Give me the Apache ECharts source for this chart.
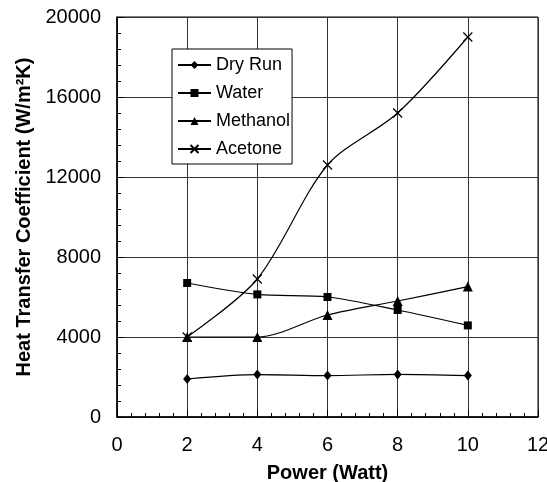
<!DOCTYPE html>
<html>
<head>
<meta charset="utf-8">
<script src="https://cdn.jsdelivr.net/npm/echarts@6/dist/echarts.min.js"></script>
<style>html,body{margin:0;padding:0;background:#fff}#c{width:547px;height:482px}</style>
</head>
<body>
<div id="c"></div>
<script>
var power = [2, 4, 6, 8, 10];
var dryRun = [1900, 2120, 2070, 2130, 2070];
var water = [6700, 6130, 6000, 5350, 4580];
var methanol = [4000, 4000, 5100, 5800, 6520];
var acetone = [4000, 6900, 12600, 15200, 19000];
var xTicks = [0, 2, 4, 6, 8, 10, 12];
var yTicks = [0, 4000, 8000, 12000, 16000, 20000];

function pairs(vals) { return power.map(function (p, i) { return [p, vals[i]]; }); }

var font = 'Liberation Sans, Arial, sans-serif';
var chart = echarts.init(document.getElementById('c'), null, { renderer: 'canvas' });
function mk(name, vals, symbol, size, extra) {
  var s = {
    name: name, type: 'line', data: pairs(vals), smooth: 0.3,
    symbol: symbol, symbolSize: size, showSymbol: true,
    lineStyle: { color: '#000', width: 1.2 },
    itemStyle: { color: '#000', borderColor: '#000', borderWidth: 0 },
    emphasis: { disabled: true }
  };
  if (extra) Object.assign(s.itemStyle, extra);
  return s;
}
chart.setOption({
  animation: false,
  backgroundColor: '#fff',
  grid: { left: 117, right: 9, top: 17, bottom: 65, show: true, borderColor: '#000', borderWidth: 1,
          containLabel: false, outerBoundsMode: 'none' },
  legend: {
    orient: 'vertical', left: 172, top: 49,
    padding: [7, 2, 6, 5], itemWidth: 33, itemHeight: 10, itemGap: 10,
    backgroundColor: '#fff', borderColor: '#000', borderWidth: 1,
    textStyle: { fontFamily: font, fontSize: 18, color: '#000' },
    data: ['Dry Run', 'Water', 'Methanol', 'Acetone']
  },
  xAxis: {
    type: 'value', min: xTicks[0], max: xTicks[xTicks.length - 1], interval: 2,
    name: 'Power (Watt)', nameLocation: 'middle', nameGap: 46,
    nameTextStyle: { fontFamily: font, fontSize: 20, fontWeight: 'bold', color: '#000' },
    axisLine: { lineStyle: { color: '#000', width: 1.5 } },
    axisTick: { inside: true, length: 7, lineStyle: { color: '#000' } },
    minorTick: { show: true, splitNumber: 5, length: 4, lineStyle: { color: '#000' } },
    axisLabel: { fontFamily: font, fontSize: 20, color: '#000', margin: 18 },
    splitLine: { show: true, lineStyle: { color: '#333', width: 1 } }
  },
  yAxis: {
    type: 'value', min: yTicks[0], max: yTicks[yTicks.length - 1], interval: 4000,
    name: 'Heat Transfer Coefficient (W/m²K)', nameLocation: 'middle', nameGap: 82,
    nameTextStyle: { fontFamily: font, fontSize: 20, fontWeight: 'bold', color: '#000' },
    axisLine: { lineStyle: { color: '#000', width: 1.5 } },
    axisTick: { inside: true, length: 7, lineStyle: { color: '#000' } },
    minorTick: { show: true, splitNumber: 5, length: 4, lineStyle: { color: '#000' } },
    axisLabel: { fontFamily: font, fontSize: 20, color: '#000', margin: 16, formatter: function (v) { return String(v); } },
    splitLine: { show: true, lineStyle: { color: '#333', width: 1 } }
  },
  series: [
    mk('Dry Run', dryRun, 'diamond', [8, 10]),
    mk('Water', water, 'rect', 8),
    mk('Methanol', methanol, 'triangle', 10),
    mk('Acetone', acetone, 'path://M0,0L10,10M10,0L0,10', 9, { color: 'none', borderWidth: 1.2 })
  ]
});
</script>
</body>
</html>
